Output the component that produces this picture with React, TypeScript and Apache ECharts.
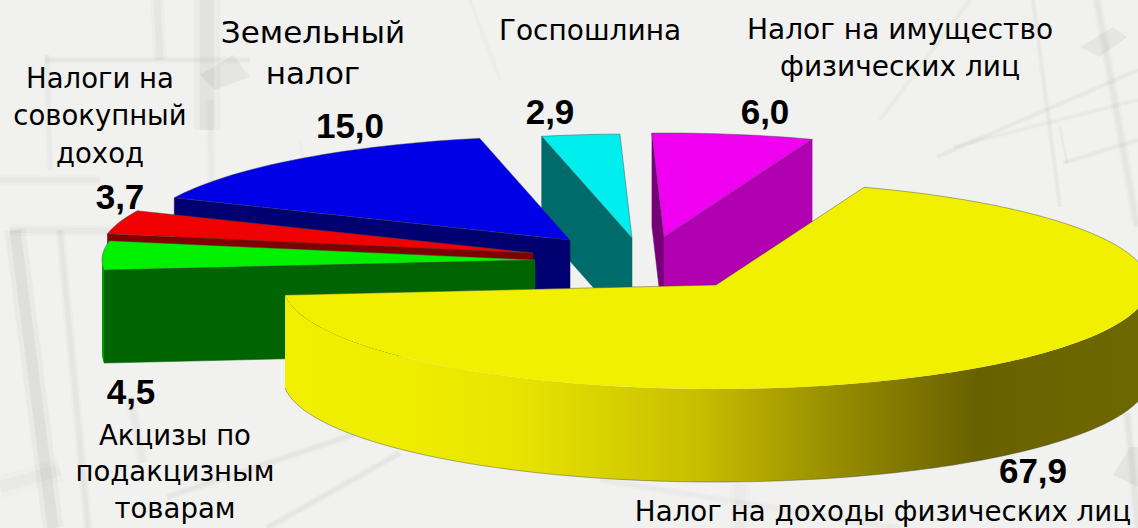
import React, { useEffect, useRef } from "react";
import * as echarts from "echarts";

// Clockwise from the yellow slice
const categories = [
  "Налог на доходы физических лиц",
  "Акцизы по\nподакцизным\nтоварам",
  "Налоги на\nсовокупный\nдоход",
  "Земельный\nналог",
  "Госпошлина",
  "Налог на имущество\nфизических лиц",
];
const values = [67.9, 4.5, 3.7, 15.0, 2.9, 6.0];
const valueLabels = ["67,9", "4,5", "3,7", "15,0", "2,9", "6,0"];
const topColors = ["#f0f000", "#00f000", "#f00000", "#0000e6", "#00eeee", "#f000f0"];
const startWallColors = ["#b0a800", "#006400", "#800000", "#000070", "#006b6b", "#760076"];
const endWallColors = ["#b0a800", "#006400", "#800000", "#000070", "#006b6b", "#b000b0"];
const outerWallColors = ["#b0a800", "#009a00", "#800000", "#000070", "#006b6b", "#b000b0"];
const paintOrder = [5, 4, 3, 2, 1, 0];

// Layout only
const W = 1138, H = 528;
const RX = 433, RY = 104, DEPTH = 93, START_ANGLE = -70;
const apexes = [[716, 285], [535, 260], [533, 253], [570, 240], [632, 238], [664, 237]];
const catPos = [[883, 511], [175, 471], [100, 115], [313, 52], [590, 30], [900, 48]];
const catSize = [27.7, 27.5, 27.5, 31, 28, 28];
const catLH = [36, 36.5, 37.5, 41, 36, 37];
const valPos = [[1033, 470], [131, 391], [120, 196], [350, 125], [550, 111], [765, 111]];
const bgLines: number[][] = [
  [207, 0, 207, 130, 14, 0.10], [157, 0, 160, 60, 7, 0.07], [45, 60, 250, 60, 4, 0.06],
  [47, 55, 50, 170, 4, 0.05], [210, 100, 212, 200, 5, 0.05], [0, 180, 100, 180, 5, 0.06],
  [15, 230, 53, 528, 11, 0.12], [60, 230, 88, 528, 5, 0.07], [10, 230, 170, 232, 6, 0.06],
  [130, 397, 143, 463, 6, 0.06],
  [267, 528, 400, 453, 4, 0.07], [167, 497, 367, 430, 4, 0.07], [0, 487, 60, 470, 12, 0.05],
  [880, 120, 970, 0, 3, 0.05], [1033, 0, 1060, 207, 3, 0.06], [1097, 0, 1137, 227, 5, 0.07],
  [937, 157, 1138, 70, 3, 0.06], [953, 147, 1138, 100, 3, 0.05], [1063, 163, 1138, 140, 3, 0.06],
  [1060, 127, 1067, 163, 2, 0.05], [1127, 413, 1138, 528, 5, 0.08], [740, 484, 740, 528, 10, 0.04],
  [600, 480, 900, 528, 4, 0.04], [300, 140, 310, 200, 3, 0.03], [470, 0, 500, 80, 3, 0.03],
];
const bgShapes: number[][][] = [
  [[200, 75], [233, 55], [250, 77], [215, 90]],
  [[1080, 47], [1113, 27], [1127, 37], [1100, 57]],
  [[1113, 475], [1130, 447], [1138, 447], [1138, 487]],
];

const rad = (d: number) => (d * Math.PI) / 180;
const total = values.reduce((s, v) => s + v, 0);
const spans: number[][] = [];
let cursor = START_ANGLE;
values.forEach((v) => {
  const next = cursor + (v / total) * 360;
  spans.push([cursor, next]);
  cursor = next;
});

const renderItem = (_p: any, api: any) => {
  const i = api.value(0);
  const [a0, a1] = spans[i];
  const [cx, cy] = apexes[i];
  const pt = (a: number, dy = 0) => [cx + RX * Math.cos(rad(a)), cy + RY * Math.sin(rad(a)) + dy];
  const arc = (from: number, to: number, dy = 0) => {
    const n = Math.max(4, Math.ceil(Math.abs(to - from) / 1.5));
    const out: number[][] = [];
    for (let k = 0; k <= n; k++) out.push(pt(from + ((to - from) * k) / n, dy));
    return out;
  };
  const edge = { stroke: "rgba(70,70,70,0.55)", lineWidth: 0.8 };
  const children: any[] = [];
  const wall = (a: number, fill: string) =>
    children.push({
      type: "polygon",
      shape: { points: [[cx, cy], pt(a), pt(a, DEPTH), [cx, cy + DEPTH]] },
      style: { fill, stroke: fill, lineWidth: 0.5 },
    });
  if (Math.cos(rad(a0)) < 0) wall(a0, startWallColors[i]);
  if (Math.cos(rad(a1)) > 0) wall(a1, endWallColors[i]);
  const lo = Math.max(a0, 0), hi = Math.min(a1, 180);
  if (hi > lo) {
    const fill =
      i === 0
        ? new echarts.graphic.LinearGradient(
            cx - RX, 0, cx + RX, 0,
            [
              { offset: 0, color: "#f0f000" },
              { offset: 0.12, color: "#f0ee00" },
              { offset: 0.27, color: "#e8e400" },
              { offset: 0.48, color: "#c8be00" },
              { offset: 0.62, color: "#9c9200" },
              { offset: 0.8, color: "#696100" },
              { offset: 1, color: "#6e6800" },
            ],
            true
          )
        : outerWallColors[i];
    children.push({
      type: "polygon",
      shape: { points: [...arc(lo, hi), ...arc(hi, lo, DEPTH)] },
      style: { fill, stroke: "none" },
    });
  }
  if (i === 0) {
    children.push({
      type: "polygon",
      shape: { points: [[cx, cy], ...arc(a0, a1)] },
      style: { fill: topColors[i], stroke: "none" },
    });
    children.push({
      type: "polyline",
      shape: { points: [...arc(0, a0), [cx, cy], pt(a1)] },
      style: { fill: "none", ...edge },
    });
    children.push({
      type: "polyline",
      shape: { points: arc(0, a1, DEPTH) },
      style: { fill: "none", ...edge },
    });
  } else {
    children.push({
      type: "polygon",
      shape: { points: [[cx, cy], ...arc(a0, a1)] },
      style: { fill: topColors[i], ...edge },
    });
  }
  return { type: "group", children };
};

export default function App() {
  const ref = useRef<HTMLDivElement>(null);
  useEffect(() => {
    document.body.style.margin = "0";
    const chart = echarts.init(ref.current!, undefined, { renderer: "svg" });
    const soft = (w: number, o: number, k: number, f: number) => ({
      stroke: `rgba(90,90,90,${(o * f).toFixed(3)})`,
      lineWidth: w * k,
    });
    const bg: any[] = [
      { type: "rect", z: -10, shape: { x: 0, y: 0, width: W, height: H }, style: { fill: "#f1f1f0" } },
    ];
    bgLines.forEach(([x1, y1, x2, y2, w, o]) => {
      bg.push({ type: "line", z: -9, shape: { x1, y1, x2, y2 }, style: soft(w, o, 1.9, 0.4) });
      bg.push({ type: "line", z: -9, shape: { x1, y1, x2, y2 }, style: soft(w, o, 1, 0.6) });
    });
    bgShapes.forEach((points) => {
      bg.push({ type: "polygon", z: -9, shape: { points }, style: { fill: "rgba(90,90,90,0.08)" } });
    });
    const cats = categories.map((c, i) => ({
      type: "text", z: 100, x: catPos[i][0], y: catPos[i][1],
      style: {
        text: c, fontFamily: "'DejaVu Sans'", fontSize: catSize[i], lineHeight: catLH[i],
        fill: "#000", align: "center", verticalAlign: "middle",
      },
    }));
    const vals = valueLabels.map((c, i) => ({
      type: "text", z: 100, x: valPos[i][0], y: valPos[i][1],
      style: {
        text: c, fontFamily: "'Liberation Sans'", fontWeight: "bold", fontSize: 35,
        fill: "#000", align: "center", verticalAlign: "middle",
      },
    }));
    chart.setOption({
      animation: false,
      graphic: { elements: [...bg, ...cats, ...vals] },
      series: [
        {
          type: "custom",
          coordinateSystem: "none",
          clip: false,
          z: 5,
          renderItem,
          encode: { value: 0 },
          data: paintOrder.map((i) => [i, values[i]]),
        },
      ],
    });
    return () => chart.dispose();
  }, []);
  return <div ref={ref} style={{ width: W, height: H, overflow: "hidden" }} />;
}
